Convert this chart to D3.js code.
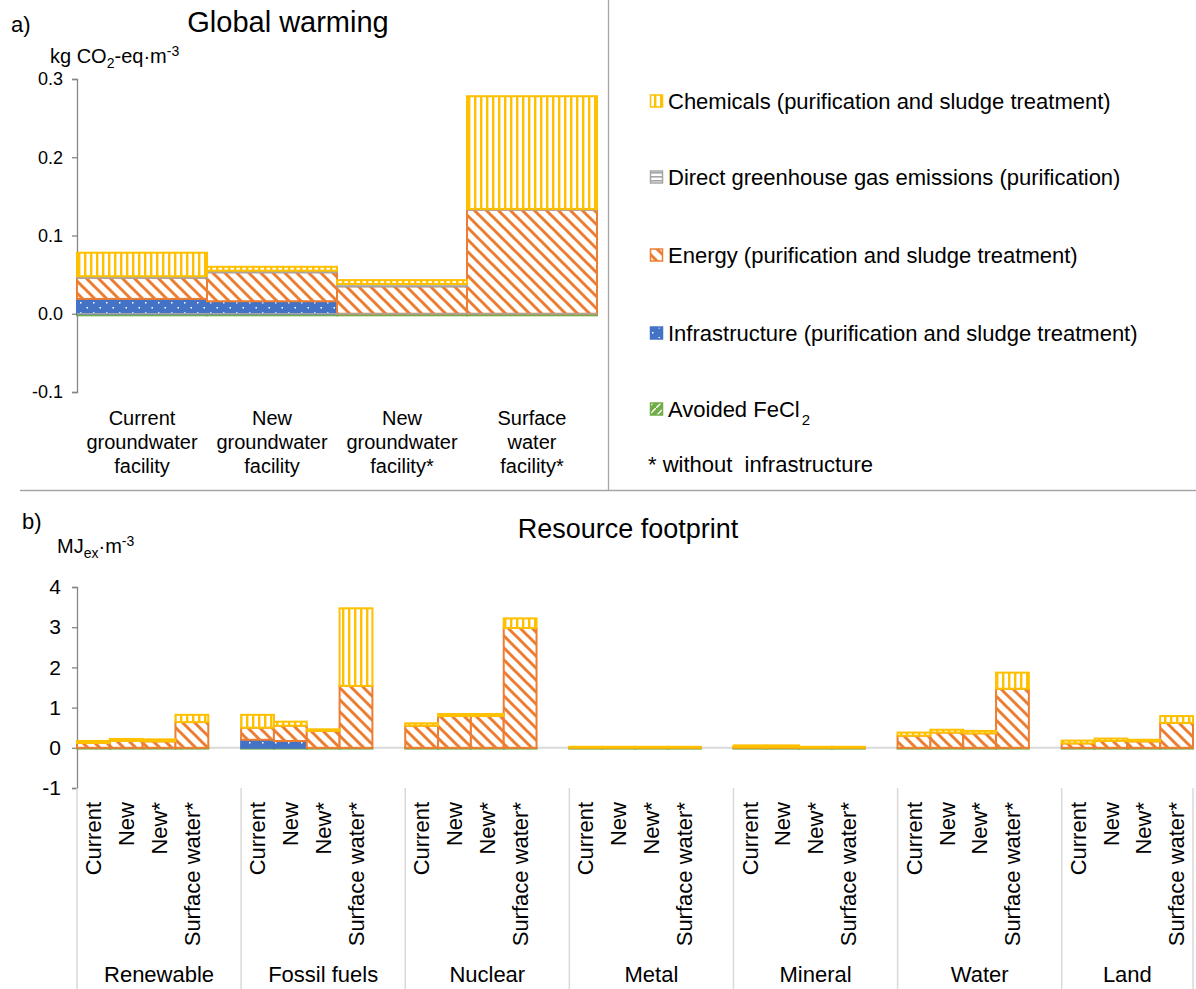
<!DOCTYPE html>
<html>
<head>
<meta charset="utf-8">
<script src="https://cdn.jsdelivr.net/npm/d3@7"></script>
<style>
body { margin: 0; background: #fff; }
svg { font-family: "Liberation Sans", Arial, sans-serif; }
</style>
</head>
<body>
<script>
// a) global warming, kg CO2-eq per m3 (one value per facility)
var gwFacilities = [["Current", "groundwater", "facility"], ["New", "groundwater", "facility"],
                    ["New", "groundwater", "facility*"], ["Surface", "water", "facility*"]];
var gwInfra   = [0.019, 0.016, 0, 0];
var gwEnergy  = [0.027, 0.037, 0.035, 0.133];
var gwDirect  = [0.002, 0.002, 0.003, 0.001];
var gwChem    = [0.030, 0.005, 0.005, 0.144];
var gwAvoided = [-0.002, -0.002, -0.002, -0.002];
var gwTicks   = [-0.1, 0, 0.1, 0.2, 0.3];

// b) resource footprint, MJex per m3
var resGroups = ["Renewable", "Fossil fuels", "Nuclear", "Metal", "Mineral", "Water", "Land"];
var resFacilities = ["Current", "New", "New*", "Surface water*"];
// 4 values per group, groups in the order above
var resInfra   = [0, 0, 0, 0,   0.20, 0.17, 0, 0,   0, 0, 0, 0,   0, 0, 0, 0,
                  0, 0, 0, 0,   0, 0, 0, 0,   0, 0, 0, 0];
var resEnergy  = [0.12, 0.17, 0.16, 0.64,   0.30, 0.38, 0.42, 1.54,   0.55, 0.79, 0.79, 2.98,
                  0.005, 0.005, 0.005, 0.005,   0.01, 0.01, 0.005, 0.005,
                  0.30, 0.38, 0.36, 1.47,   0.11, 0.17, 0.16, 0.62];
var resDirect  = [0, 0, 0, 0,   0, 0, 0, 0,   0, 0, 0, 0,   0, 0, 0, 0,
                  0, 0, 0, 0,   0, 0, 0, 0,   0, 0, 0, 0];
var resChem    = [0.05, 0.05, 0.05, 0.18,   0.32, 0.10, 0.04, 1.93,   0.06, 0.05, 0.05, 0.24,
                  0.02, 0.02, 0.02, 0.02,   0.05, 0.05, 0.02, 0.02,
                  0.08, 0.07, 0.06, 0.40,   0.07, 0.06, 0.04, 0.17];
var resAvoided = [-0.02, -0.02, -0.02, -0.02,   -0.02, -0.02, -0.02, -0.02,   -0.02, -0.02, -0.02, -0.02,
                  -0.02, -0.02, -0.02, -0.02,   -0.02, -0.02, -0.02, -0.02,
                  -0.02, -0.02, -0.02, -0.02,   -0.02, -0.02, -0.02, -0.02];
var resTicks = [-1, 0, 1, 2, 3, 4];

var keys = ["avoided", "infra", "energy", "direct", "chem"];
var colors = {chem: "#FFC000", direct: "#A5A5A5", energy: "#ED7D31", infra: "#4472C4", avoided: "#70AD47"};

var width = 1196, height = 989;
var svg = d3.select("body").append("svg").attr("width", width).attr("height", height);

// fill patterns
var defs = svg.append("defs");
var p;
p = defs.append("pattern").attr("id", "pat-chem").attr("patternUnits", "userSpaceOnUse")
  .attr("width", 6).attr("height", 10);
p.append("rect").attr("width", 6).attr("height", 10).attr("fill", "#fff");
p.append("rect").attr("width", 2.4).attr("height", 10).attr("fill", colors.chem);

p = defs.append("pattern").attr("id", "pat-direct").attr("patternUnits", "userSpaceOnUse")
  .attr("width", 10).attr("height", 4);
p.append("rect").attr("width", 10).attr("height", 4).attr("fill", "#fff");
p.append("rect").attr("width", 10).attr("height", 1.6).attr("fill", colors.direct);

p = defs.append("pattern").attr("id", "pat-energy").attr("patternUnits", "userSpaceOnUse")
  .attr("width", 12).attr("height", 12);
p.append("rect").attr("width", 12).attr("height", 12).attr("fill", "#fff");
p.append("path").attr("d", "M-3,-3L15,15M9,-3L15,3M-3,9L3,15")
  .attr("stroke", colors.energy).attr("stroke-width", 3);

p = defs.append("pattern").attr("id", "pat-infra").attr("patternUnits", "userSpaceOnUse")
  .attr("width", 13).attr("height", 10);
p.append("rect").attr("width", 13).attr("height", 10).attr("fill", colors.infra);
p.append("rect").attr("x", 2).attr("y", 2).attr("width", 1.5).attr("height", 1.5).attr("fill", "#fff");
p.append("rect").attr("x", 8.5).attr("y", 7).attr("width", 1.5).attr("height", 1.5).attr("fill", "#fff");

p = defs.append("pattern").attr("id", "pat-avoided").attr("patternUnits", "userSpaceOnUse")
  .attr("width", 8).attr("height", 8);
p.append("rect").attr("width", 8).attr("height", 8).attr("fill", colors.avoided);
p.append("path").attr("d", "M0,8L8,0").attr("stroke", "#fff").attr("stroke-width", 1.5);

function drawStack(g, rows, x, y) {
  var series = d3.stack().keys(keys).offset(d3.stackOffsetDiverging)(rows);
  g.selectAll("g.series").data(series).join("g")
    .attr("class", "series")
    .attr("fill", function(d) { return "url(#pat-" + d.key + ")"; })
    .attr("stroke", function(d) { return colors[d.key]; })
    .attr("stroke-width", 2)
    .selectAll("rect").data(function(d) { return d.filter(function(s) { return s[1] !== s[0]; }); })
    .join("rect")
    .attr("x", function(d) { return x(d.data.key); })
    .attr("width", x.bandwidth())
    .attr("y", function(d) { return y(d[1]); })
    .attr("height", function(d) { return y(d[0]) - y(d[1]); });
}

function styleAxis(g) {
  g.select(".domain").attr("stroke", "#868686").attr("stroke-width", 1.3);
  g.selectAll(".tick line").attr("stroke", "#868686").attr("stroke-width", 1.3);
  g.selectAll(".tick text").attr("fill", "#000").attr("font-family", null);
}

// ---------- panel a ----------
var gwRows = gwFacilities.map(function(f, i) {
  return {key: i, chem: gwChem[i], direct: gwDirect[i], energy: gwEnergy[i], infra: gwInfra[i], avoided: gwAvoided[i]};
});
var xA = d3.scaleBand().domain(d3.range(gwFacilities.length)).range([77, 597]).padding(0);
var yA = d3.scaleLinear().domain([-0.1, 0.3]).range([392, 79]);

svg.append("text").attr("x", 11).attr("y", 32).attr("font-size", 22).text("a)");
svg.append("text").attr("x", 288).attr("y", 32).attr("font-size", 29).attr("text-anchor", "middle").text("Global warming");
var ua = svg.append("text").attr("x", 50).attr("y", 63).attr("font-size", 20);
ua.append("tspan").text("kg CO");
ua.append("tspan").attr("font-size", 14).attr("dy", 5).text("2");
ua.append("tspan").attr("dy", -5).text("-eq·m");
ua.append("tspan").attr("font-size", 14).attr("dy", -7).text("-3");

var axA = svg.append("g").attr("transform", "translate(77,0)")
  .call(d3.axisLeft(yA).tickValues(gwTicks).tickSize(5).tickPadding(9)
    .tickFormat(function(d) { return d.toFixed(1); }));
axA.attr("font-size", 18);
styleAxis(axA);

drawStack(svg.append("g"), gwRows, xA, yA);
svg.append("line").attr("x1", 77).attr("x2", 597).attr("y1", yA(0)).attr("y2", yA(0))
  .attr("stroke", "#A6A6A6").attr("stroke-width", 1.3);

gwFacilities.forEach(function(lines, i) {
  var t = svg.append("text").attr("font-size", 20).attr("text-anchor", "middle");
  lines.forEach(function(l, j) {
    t.append("tspan").attr("x", xA(i) + xA.bandwidth() / 2).attr("y", 425 + j * 24).text(l);
  });
});

// legend
var legendNames = [
  {key: "chem", label: "Chemicals (purification and sludge treatment)"},
  {key: "direct", label: "Direct greenhouse gas emissions (purification)"},
  {key: "energy", label: "Energy (purification and sludge treatment)"},
  {key: "infra", label: "Infrastructure (purification and sludge treatment)"},
  {key: "avoided", label: "Avoided FeCl"}
];
var legendY = [101, 177, 255, 333, 409];
var lg = svg.append("g");
legendNames.forEach(function(d, i) {
  lg.append("rect").attr("x", 650.5).attr("y", legendY[i] - 6).attr("width", 12).attr("height", 12)
    .attr("fill", "url(#pat-" + d.key + ")").attr("stroke", colors[d.key]).attr("stroke-width", 1.5);
  var t = lg.append("text").attr("x", 668).attr("y", legendY[i] + 8).attr("font-size", 22).text(d.label);
  if (d.key === "avoided") t.append("tspan").attr("font-size", 15).attr("dy", 8).attr("dx", 2).text("2");
});
svg.append("text").attr("x", 648).attr("y", 472).attr("font-size", 22)
  .style("white-space", "pre").text("* without  infrastructure");

// dividers
svg.append("line").attr("x1", 608.5).attr("x2", 608.5).attr("y1", 0).attr("y2", 490)
  .attr("stroke", "#A6A6A6").attr("stroke-width", 1.3);
svg.append("line").attr("x1", 20).attr("x2", width).attr("y1", 490.5).attr("y2", 490.5)
  .attr("stroke", "#A6A6A6").attr("stroke-width", 1.3);

// ---------- panel b ----------
var slots = [], resRows = [];
resGroups.forEach(function(g, gi) {
  resFacilities.forEach(function(f, fi) {
    var i = gi * 4 + fi;
    var k = g + "|" + f;
    slots.push(k);
    resRows.push({key: k, chem: resChem[i], direct: resDirect[i], energy: resEnergy[i],
                  infra: resInfra[i], avoided: resAvoided[i]});
  });
  if (gi < resGroups.length - 1) slots.push(g + "|gap");
});
var xB = d3.scaleBand().domain(slots).range([77, 1193]).padding(0);
var yB = d3.scaleLinear().domain([-1, 4]).range([788, 587]);

svg.append("text").attr("x", 22).attr("y", 529).attr("font-size", 22).text("b)");
svg.append("text").attr("x", 628).attr("y", 538).attr("font-size", 27).attr("text-anchor", "middle").text("Resource footprint");
var ub = svg.append("text").attr("x", 57).attr("y", 553).attr("font-size", 20);
ub.append("tspan").text("MJ");
ub.append("tspan").attr("font-size", 14).attr("dy", 5).text("ex");
ub.append("tspan").attr("dy", -5).text("·m");
ub.append("tspan").attr("font-size", 14).attr("dy", -7).text("-3");

svg.append("line").attr("x1", 77).attr("x2", 1193).attr("y1", yB(0)).attr("y2", yB(0))
  .attr("stroke", "#D9D9D9").attr("stroke-width", 2);

var axB = svg.append("g").attr("transform", "translate(77,0)")
  .call(d3.axisLeft(yB).tickValues(resTicks).tickSize(5).tickPadding(11)
    .tickFormat(function(d) { return String(d); }));
axB.attr("font-size", 21);
styleAxis(axB);

drawStack(svg.append("g"), resRows, xB, yB);

// category labels, rotated
svg.append("g").selectAll("text").data(resRows).join("text")
  .attr("transform", function(d) { return "translate(" + (xB(d.key) + xB.bandwidth() / 2) + ",802) rotate(-90)"; })
  .attr("text-anchor", "end").attr("dy", "0.35em").attr("font-size", 22)
  .text(function(d) { return d.key.split("|")[1]; });

// group separators and names
var sepX = resGroups.map(function(g) { return xB(g + "|" + resFacilities[0]); }).concat([1193]);
svg.append("g").selectAll("line").data(sepX).join("line")
  .attr("x1", function(d) { return d; }).attr("x2", function(d) { return d; })
  .attr("y1", 788).attr("y2", height)
  .attr("stroke", "#D9D9D9").attr("stroke-width", 1.5);
svg.append("g").selectAll("text").data(resGroups).join("text")
  .attr("x", function(d, i) { return (sepX[i] + sepX[i + 1]) / 2; })
  .attr("y", 982).attr("text-anchor", "middle").attr("font-size", 22)
  .text(function(d) { return d; });
</script>
</body>
</html>
